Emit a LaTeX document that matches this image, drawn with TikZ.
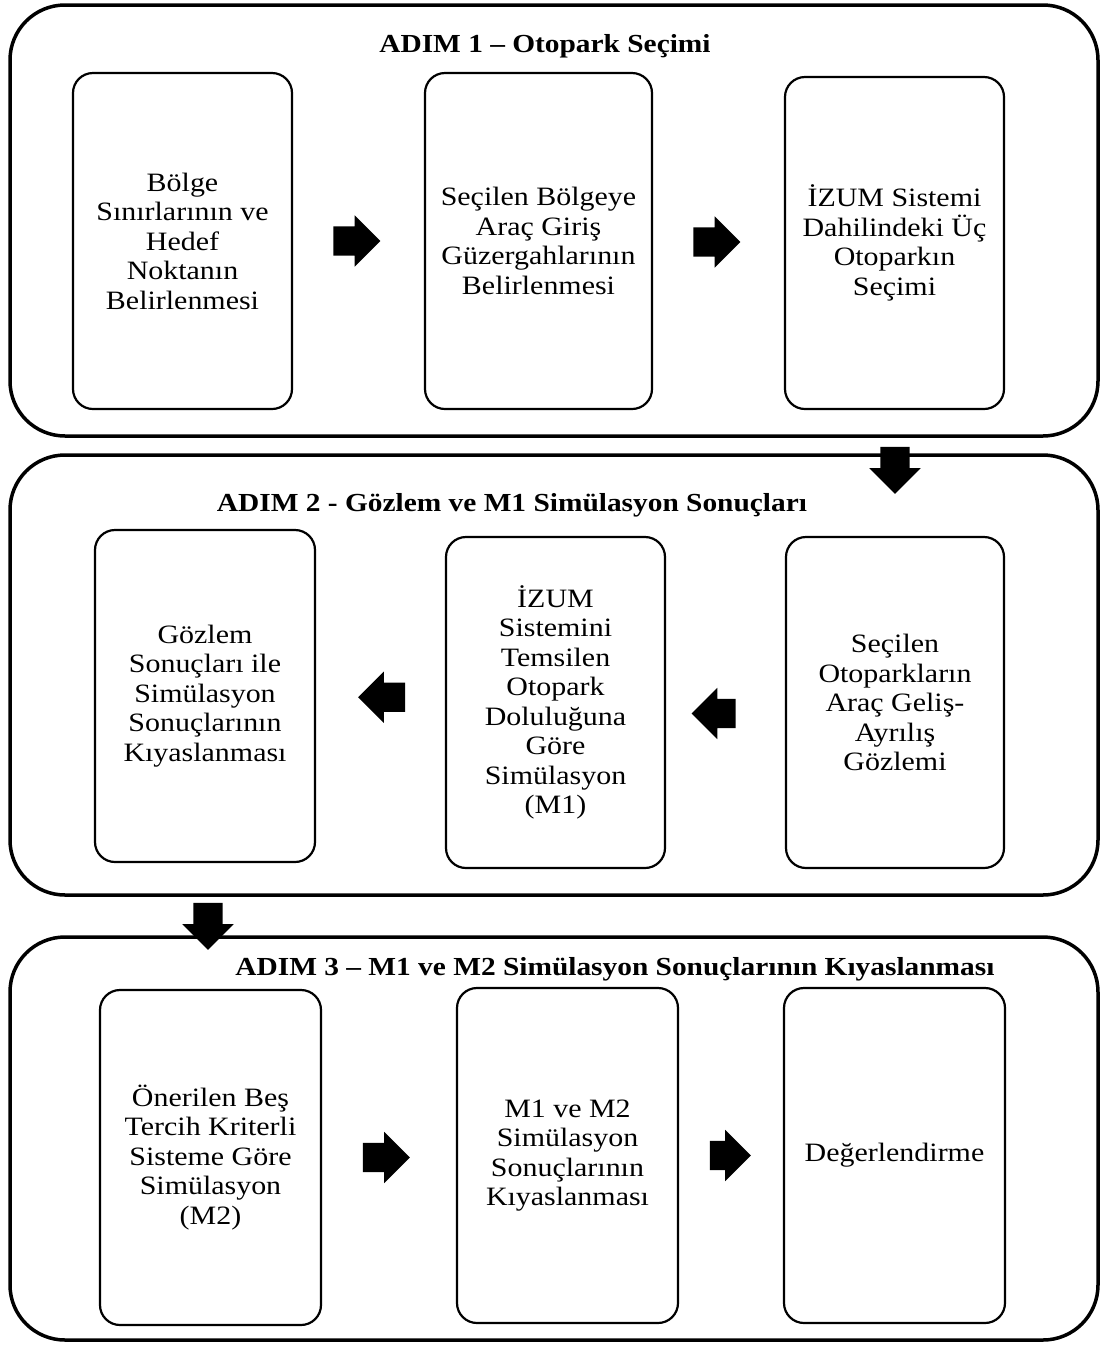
\documentclass[tikz,border=0pt]{standalone}
\usepackage{fontspec}
\setmainfont[FakeStretch=1.13]{Liberation Serif}
\usetikzlibrary{shapes.arrows,calc}
\tikzstyle{stepframe}=[draw, line width=3.5pt, rounded corners=55pt, inner sep=0pt]
\tikzstyle{taskbox}=[draw, line width=2.2pt, rounded corners=20pt, align=center, inner sep=0pt, font=\fontsize{26.5}{29.5}\selectfont]
\tikzstyle{steptitle}=[inner sep=0pt, font=\fontsize{26}{29}\selectfont\bfseries]
\tikzstyle{blockarrow}=[single arrow, fill=black, draw=none, inner xsep=0pt, inner ysep=14.5pt, minimum height=47pt, single arrow head extend=11pt]

\begin{document}
\begin{tikzpicture}[x=1pt, y=-1pt]
    \useasboundingbox (0,0) rectangle (1102,1345);
% Frames
    \node[stepframe, minimum width=1088pt, minimum height=431pt] (step1) at (554,220.5) {};
    \node[stepframe, minimum width=1088pt, minimum height=440pt] (step2) at (554,675) {};
    \node[stepframe, minimum width=1088pt, minimum height=403pt] (step3) at (554,1138.5) {};
% Titles
    \node[steptitle] (t1) at (545,46) {ADIM 1 – Otopark Seçimi};
    \node[steptitle] (t2) at (512,505) {ADIM 2 - Gözlem ve M1 Simülasyon Sonuçları};
    \node[steptitle] (t3) at (615,969) {ADIM 3 – M1 ve M2 Simülasyon Sonuçlarının Kıyaslanması};
% Step 1
    \node[taskbox, minimum width=219pt, minimum height=336pt] (b11) at (182.5,241) {Bölge\\Sınırlarının ve\\Hedef\\Noktanın\\Belirlenmesi};
    \node[taskbox, minimum width=227pt, minimum height=336pt] (b12) at (538.5,241) {Seçilen Bölgeye\\Araç Giriş\\Güzergahlarının\\Belirlenmesi};
    \node[taskbox, minimum width=219pt, minimum height=332pt] (b13) at (894.5,243) {İZUM Sistemi\\Dahilindeki Üç\\Otoparkın\\Seçimi};
% Step 2
    \node[taskbox, minimum width=220pt, minimum height=332pt] (b21) at (205,696) {Gözlem\\Sonuçları ile\\Simülasyon\\Sonuçlarının\\Kıyaslanması};
    \node[taskbox, minimum width=219pt, minimum height=331pt] (b22) at (555.5,702.5) {İZUM\\Sistemini\\Temsilen\\Otopark\\Doluluğuna\\Göre\\Simülasyon\\(M1)};
    \node[taskbox, minimum width=218pt, minimum height=331pt] (b23) at (895,702.5) {Seçilen\\Otoparkların\\Araç Geliş-\\Ayrılış\\Gözlemi};
% Step 3
    \node[taskbox, minimum width=221pt, minimum height=335pt] (b31) at (210.5,1157.5) {Önerilen Beş\\Tercih Kriterli\\Sisteme Göre\\Simülasyon\\(M2)};
    \node[taskbox, minimum width=221pt, minimum height=335pt] (b32) at (567.5,1155.5) {M1 ve M2\\Simülasyon\\Sonuçlarının\\Kıyaslanması};
    \node[taskbox, minimum width=221pt, minimum height=335pt] (b33) at (894.5,1155.5) {Değerlendirme};
% Arrows
    \node[blockarrow] (a1) at ($(b11.east)!.5!(b12.west)+(-9,0)$) {};
    \node[blockarrow] (a2) at ($(b12.east)!.5!(b13.west)+(-9,0)$) {};
    \node[blockarrow, rotate=-90] (d1) at (895,463) {};
    \node[blockarrow, rotate=180, minimum height=44pt] (a3) at ($(b23.west)!.5!(b22.east)+(-4.5,11)$) {};
    \node[blockarrow, rotate=180] (a4) at ($(b22.west)!.5!(b21.east)+(8.5,-2)$) {};
    \node[blockarrow, rotate=-90] (d2) at (208,919) {};
    \node[blockarrow] (a5) at ($(b31.east)!.5!(b32.west)+(-10,1)$) {};
    \node[blockarrow, minimum height=41pt] (a6) at ($(b32.east)!.5!(b33.west)+(-8,0)$) {};
\end{tikzpicture}
\end{document}
